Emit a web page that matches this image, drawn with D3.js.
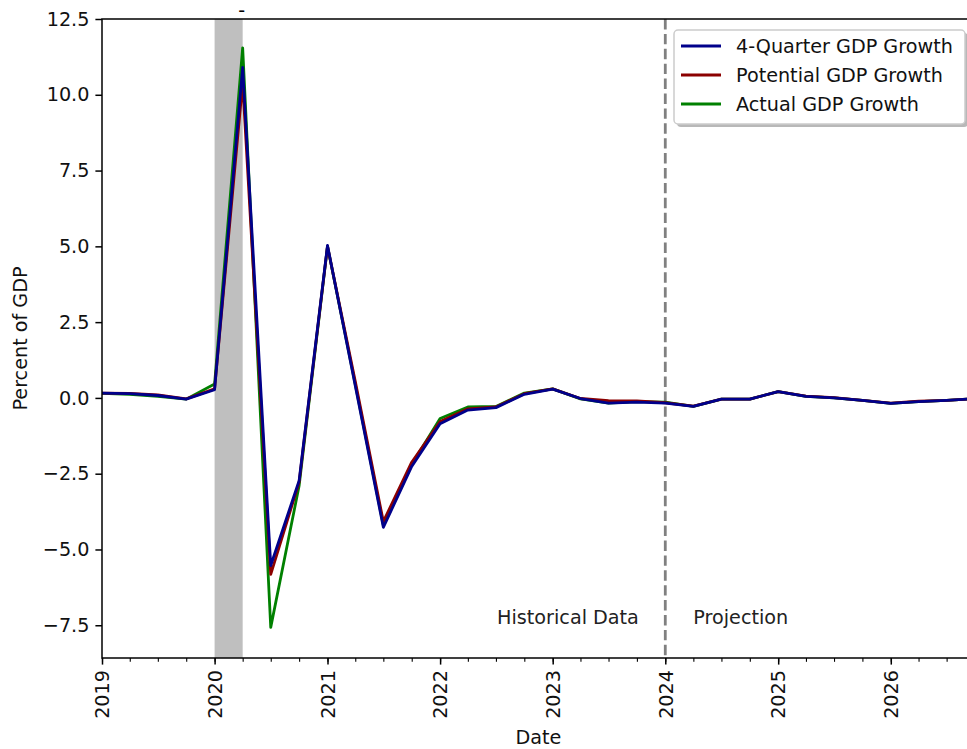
<!DOCTYPE html>
<html>
<head>
<meta charset="utf-8">
<script src="https://cdn.jsdelivr.net/npm/d3@7"></script>
<style>
  body { margin: 0; background: #fff; }
  svg { display: block; font-family: "DejaVu Sans", sans-serif; }
</style>
</head>
<body>
<div id="graph"></div>
<script>
// quarterly dates, 2019Q1 - 2026Q4
var quarters = ["2019-01-01","2019-04-01","2019-07-01","2019-10-01",
                "2020-01-01","2020-04-01","2020-07-01","2020-10-01",
                "2021-01-01","2021-04-01","2021-07-01","2021-10-01",
                "2022-01-01","2022-04-01","2022-07-01","2022-10-01",
                "2023-01-01","2023-04-01","2023-07-01","2023-10-01",
                "2024-01-01","2024-04-01","2024-07-01","2024-10-01",
                "2025-01-01","2025-04-01","2025-07-01","2025-10-01",
                "2026-01-01","2026-04-01","2026-07-01","2026-10-01"];

var fourQuarterGrowth = [0.16, 0.14, 0.08, -0.04, 0.27, 10.9, -5.53, -2.73,
                         5.03, 0.40, -4.27, -2.26, -0.85, -0.40, -0.32, 0.12,
                         0.29, -0.02, -0.17, -0.14, -0.17, -0.28, -0.04, -0.04,
                         0.21, 0.05, 0.00, -0.08, -0.18, -0.12, -0.08, -0.02];

var potentialGrowth = [0.16, 0.15, 0.10, -0.03, 0.30, 10.4, -5.82, -2.78,
                       5.00, 0.55, -4.08, -2.12, -0.78, -0.36, -0.30, 0.14,
                       0.30, -0.02, -0.09, -0.10, -0.16, -0.27, -0.04, -0.04,
                       0.21, 0.06, 0.01, -0.08, -0.17, -0.11, -0.08, -0.02];

var actualGrowth = [0.15, 0.12, 0.05, -0.04, 0.46, 11.55, -7.57, -2.90,
                    5.00, 0.45, -4.20, -2.20, -0.68, -0.30, -0.28, 0.16,
                    0.30, -0.03, -0.17, -0.12, -0.14, -0.28, -0.04, -0.04,
                    0.21, 0.05, 0.00, -0.08, -0.18, -0.12, -0.08, -0.02];

var yTicks = [-7.5, -5.0, -2.5, 0.0, 2.5, 5.0, 7.5, 10.0, 12.5];
var recession = ["2020-01-01", "2020-04-01"];
var projectionStart = "2024-01-01";

var parseDate = d3.timeParse("%Y-%m-%d");

var svgWidth = 967, svgHeight = 749;
var chartMargin = { top: 19, left: 102 };
var chartRight = 975, chartBottom = 658;
var fontSize = 19.2;

var svg = d3.select("#graph").append("svg")
  .attr("width", svgWidth)
  .attr("height", svgHeight);

var xScale = d3.scaleTime()
  .domain([parseDate(quarters[0]), parseDate(quarters[quarters.length - 1])])
  .range([chartMargin.left, chartRight]);

var yScale = d3.scaleLinear()
  .domain([-8.58, 12.5])
  .range([chartBottom, chartMargin.top]);

svg.append("clipPath").attr("id", "plotClip")
  .append("rect")
  .attr("x", chartMargin.left).attr("y", chartMargin.top)
  .attr("width", chartRight - chartMargin.left)
  .attr("height", chartBottom - chartMargin.top);

var plot = svg.append("g").attr("clip-path", "url(#plotClip)");

// recession shading
plot.append("rect")
  .attr("x", xScale(parseDate(recession[0])))
  .attr("y", chartMargin.top)
  .attr("width", xScale(parseDate(recession[1])) - xScale(parseDate(recession[0])))
  .attr("height", chartBottom - chartMargin.top)
  .attr("fill", "gray")
  .attr("fill-opacity", 0.5);

// projection divider
var projX = xScale(parseDate(projectionStart));
plot.append("line")
  .attr("x1", projX).attr("x2", projX)
  .attr("y1", chartMargin.top).attr("y2", chartBottom)
  .attr("stroke", "gray")
  .attr("stroke-width", 2.8)
  .attr("stroke-dasharray", "10.4,4.5");

var series = [
  { name: "Actual GDP Growth", values: actualGrowth, color: "green" },
  { name: "Potential GDP Growth", values: potentialGrowth, color: "darkred" },
  { name: "4-Quarter GDP Growth", values: fourQuarterGrowth, color: "darkblue" }
];

var line = d3.line()
  .x(function(d, i) { return xScale(parseDate(quarters[i])); })
  .y(function(d) { return yScale(d); });

series.forEach(function(s) {
  plot.append("path")
    .datum(s.values)
    .attr("d", line)
    .attr("fill", "none")
    .attr("stroke", s.color)
    .attr("stroke-width", 2.8)
    .attr("stroke-linejoin", "round");
});

// annotations
svg.append("text")
  .attr("x", xScale(d3.timeMonth.offset(parseDate(projectionStart), -3)) + 2)
  .attr("y", yScale(-7.5) - 1.5)
  .attr("text-anchor", "end")
  .style("font-size", fontSize + "px")
  .attr("fill", "#222")
  .text("Historical Data");

svg.append("text")
  .attr("x", xScale(d3.timeMonth.offset(parseDate(projectionStart), 3)))
  .attr("y", yScale(-7.5) - 1.5)
  .attr("text-anchor", "start")
  .style("font-size", fontSize + "px")
  .attr("fill", "#222")
  .text("Projection");

// stray title dash above the recession band
svg.append("text")
  .attr("x", xScale(parseDate(recession[1])) - 1)
  .attr("y", 17)
  .attr("text-anchor", "middle")
  .style("font-size", fontSize + "px")
  .text("-");

// frame
svg.append("rect")
  .attr("x", chartMargin.left).attr("y", chartMargin.top)
  .attr("width", chartRight - chartMargin.left)
  .attr("height", chartBottom - chartMargin.top)
  .attr("fill", "none")
  .attr("stroke", "#000")
  .attr("stroke-width", 1.5);

// y axis
var yAxis = svg.append("g")
  .attr("transform", `translate(${chartMargin.left},0)`)
  .call(d3.axisLeft(yScale).tickValues(yTicks).tickFormat(d3.format(".1f"))
        .tickSize(6.6).tickPadding(6).tickSizeOuter(0));
yAxis.select(".domain").remove();
yAxis.selectAll(".tick line").attr("stroke-width", 1.5);
yAxis.selectAll(".tick text").style("font-size", fontSize + "px")
  .style("font-family", "DejaVu Sans").attr("fill", "#111");

// x axis: minor quarterly ticks
var xMinor = svg.append("g")
  .attr("transform", `translate(0,${chartBottom})`)
  .call(d3.axisBottom(xScale).ticks(d3.timeMonth.every(3)).tickFormat("")
        .tickSize(3.8).tickSizeOuter(0));
xMinor.select(".domain").remove();
xMinor.selectAll(".tick line").attr("stroke-width", 1.1);

var xAxis = svg.append("g")
  .attr("transform", `translate(0,${chartBottom})`)
  .call(d3.axisBottom(xScale).ticks(d3.timeYear.every(1)).tickFormat(d3.timeFormat("%Y"))
        .tickSize(6.6).tickSizeOuter(0));
xAxis.select(".domain").remove();
xAxis.selectAll(".tick line").attr("stroke-width", 1.5);
xAxis.selectAll(".tick text")
  .style("font-size", fontSize + "px")
  .style("font-family", "DejaVu Sans")
  .attr("fill", "#111")
  .attr("transform", "rotate(-90)")
  .attr("text-anchor", "end")
  .attr("x", -12)
  .attr("y", 0)
  .attr("dy", "0.35em");

// axis titles
svg.append("text")
  .attr("x", (chartMargin.left + chartRight) / 2)
  .attr("y", 744)
  .attr("text-anchor", "middle")
  .style("font-size", fontSize + "px")
  .attr("fill", "#111")
  .text("Date");

svg.append("text")
  .attr("transform", `translate(27,${(chartMargin.top + chartBottom) / 2}) rotate(-90)`)
  .attr("text-anchor", "middle")
  .style("font-size", fontSize + "px")
  .attr("fill", "#111")
  .text("Percent of GDP");

// legend
var legendItems = [series[2], series[1], series[0]];
var legend = svg.append("g").attr("transform", "translate(674,30)");
legend.append("rect")
  .attr("x", 3).attr("y", 3).attr("width", 291).attr("height", 94)
  .attr("rx", 4).attr("fill", "#888").attr("fill-opacity", 0.6);
legend.append("rect")
  .attr("x", 0).attr("y", 0).attr("width", 291).attr("height", 94)
  .attr("rx", 4).attr("fill", "#fff").attr("stroke", "#ccc").attr("stroke-width", 1.5);

legendItems.forEach(function(s, i) {
  var rowY = 16 + i * 29;
  legend.append("line")
    .attr("x1", 7).attr("x2", 47)
    .attr("y1", rowY).attr("y2", rowY)
    .attr("stroke", s.color).attr("stroke-width", 2.8);
  legend.append("text")
    .attr("x", 62).attr("y", rowY)
    .attr("dy", "0.35em")
    .style("font-size", fontSize + "px")
    .attr("fill", "#111")
    .text(s.name);
});
</script>
</body>
</html>
